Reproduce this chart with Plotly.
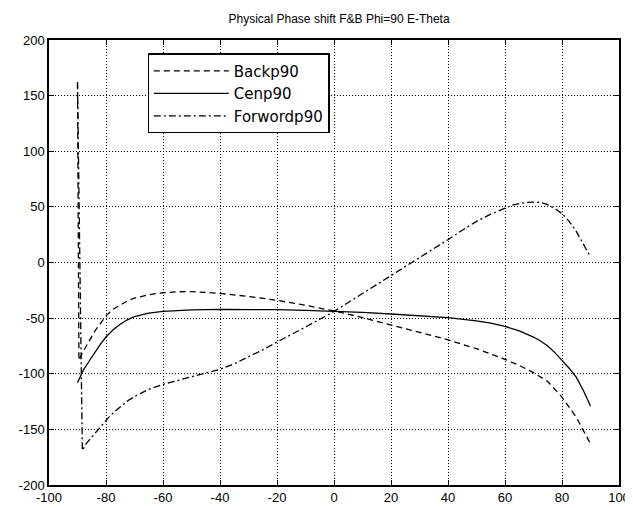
import plotly.graph_objects as go

# Backp90 (dashed)
back_x = [-90, -89.5, -88, -86, -84, -82, -80, -77.5, -75, -72.5, -70, -67.5, -65, -62.5, -60,
          -55, -50, -45, -40, -30, -20, -10, 0, 10, 20, 30, 40, 50, 55, 60, 65, 70, 75,
          80, 82.5, 85, 87.5, 90]
back_y = [162, -88, -80, -71, -62, -55, -48, -42, -38, -34.5, -32, -30.2, -29, -28, -27.2,
          -26.3, -26.2, -26.8, -27.8, -30.5, -34, -38.5, -43.5, -49.5, -56, -62.5, -69.5, -77.5, -82,
          -87, -92.5, -99, -107, -121, -130, -139, -151, -163]

# Cenp90 (solid)
cen_x = [-90, -89, -88, -86, -84, -82, -80, -77.5, -75, -72.5, -70, -67.5, -65, -60, -55, -50,
         -40, -30, -20, -10, 0, 10, 20, 30, 40, 50, 55, 60, 65, 70, 72.5, 75, 77.5, 80,
         82.5, 85, 87.5, 90]
cen_y = [-108, -102, -97, -89, -81, -73.5, -67, -60.5, -55.5, -51.5, -48.7, -46.8, -45.5, -44,
         -43.2, -42.6, -42.1, -42, -42.4, -43, -43.6, -44.8, -46.3, -47.8, -49.5, -52.5, -54.5,
         -57.5, -61.5, -67, -70.5, -75, -81, -88, -95, -103, -115, -129]

# Forwordp90 (dash-dot)
fwd_x = [-90, -88.3, -87, -85, -83, -81, -79, -77, -75, -72.5, -70, -67.5, -65, -60, -55, -50,
         -45, -40, -35, -30, -25, -20, -15, -10, -5, 0, 5, 10, 15, 20, 25, 30, 35, 40, 45,
         50, 55, 60, 62.5, 65, 67.5, 70, 72.5, 75, 77.5, 80, 82.5, 85, 87.5, 90]
fwd_y = [162, -169, -163, -157, -151, -144.5, -139, -134, -129.5, -124.5, -120.5, -117, -114,
         -109.5, -106, -102.5, -99.5, -96, -91, -85, -78.5, -71.5, -65, -58, -51, -44, -36, -28,
         -20, -12, -3.5, 4.5, 12.5, 20.5, 29, 37, 43.5, 49, 51.5, 53, 54, 54.3, 54, 52, 48.5,
         44, 37, 28, 17, 5]

x_ticks = [-100, -80, -60, -40, -20, 0, 20, 40, 60, 80, 100]
y_ticks = [-200, -150, -100, -50, 0, 50, 100, 150, 200]

fig = go.Figure()
fig.add_trace(go.Scatter(x=back_x, y=back_y, mode="lines", name="Backp90",
                         line=dict(color="black", width=1.3, dash="6px,4px")))
fig.add_trace(go.Scatter(x=cen_x, y=cen_y, mode="lines", name="Cenp90",
                         line=dict(color="black", width=1.3)))
fig.add_trace(go.Scatter(x=fwd_x, y=fwd_y, mode="lines", name="Forwordp90",
                         line=dict(color="black", width=1.3, dash="7px,3px,2px,3px")))

axis_common = dict(
    showline=True, linecolor="black", linewidth=1.5, mirror="ticks",
    ticks="inside", ticklen=5, tickcolor="black", tickwidth=1,
    showgrid=True, gridcolor="black", gridwidth=1, griddash="1px,2px",
    zeroline=False, tickfont=dict(family="Liberation Sans, Arial", size=13, color="black"),
)

fig.update_xaxes(range=[-100, 100], tickvals=x_ticks, ticktext=[str(v) for v in x_ticks], **axis_common)
fig.update_yaxes(range=[-200, 200], tickvals=y_ticks, ticktext=[str(v) for v in y_ticks], **axis_common)

fig.update_layout(
    width=633, height=508,
    margin=dict(l=41, r=11, t=32, b=15),
    paper_bgcolor="white", plot_bgcolor="white",
    title=dict(text="Physical Phase shift F&B Phi=90 E-Theta", x=0.523, xanchor="center",
               y=1, yanchor="top", pad=dict(t=7),
               font=dict(family="Liberation Sans, Arial", size=12, color="black")),
    legend=dict(x=0.173, y=0.97, xanchor="left", yanchor="top",
                bgcolor="white", bordercolor="black", borderwidth=1.2,
                font=dict(family="DejaVu Sans", size=15, color="black"),
                itemwidth=75, tracegroupgap=0),
    showlegend=True,
)

fig.write_html("out.html")
